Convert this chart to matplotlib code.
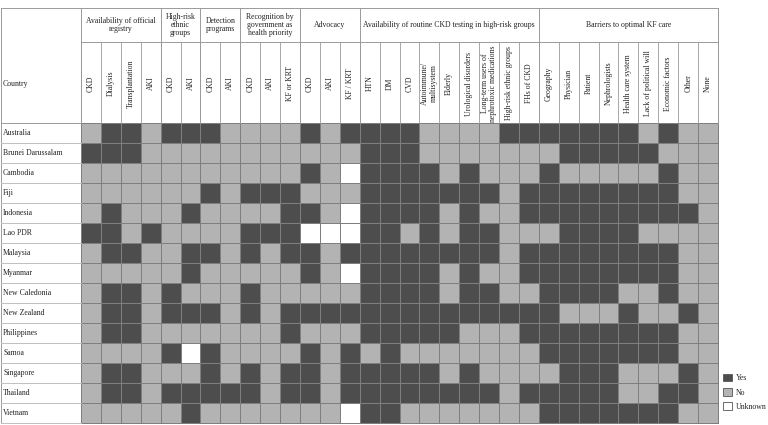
import numpy as np
import matplotlib
matplotlib.use("Agg")
import matplotlib.pyplot as plt
from matplotlib.colors import ListedColormap
from matplotlib.patches import Patch

plt.rcParams['font.family'] = ['Liberation Serif', 'DejaVu Serif']

# ---- data ----
countries = ["Australia", "Brunei Darussalam", "Cambodia", "Fiji", "Indonesia",
             "Lao PDR", "Malaysia", "Myanmar", "New Caledonia", "New Zealand",
             "Philippines", "Samoa", "Singapore", "Thailand", "Vietnam"]

groups = ["Availability of official\nregistry", "High-risk\nethnic\ngroups",
          "Detection\nprograms", "Recognition by\ngovernment as\nhealth priority",
          "Advocacy", "Availability of routine CKD testing in high-risk groups",
          "Barriers to optimal KF care"]
group_sizes = [4, 2, 2, 3, 3, 9, 9]

columns = ["CKD", "Dialysis", "Transplantation", "AKI",
           "CKD", "AKI",
           "CKD", "AKI",
           "CKD", "AKI", "KF or KRT",
           "CKD", "AKI", "KF / KRT",
           "HTN", "DM", "CVD", "Autoimmune/\nmultisystem", "Elderly",
           "Urological disorders", "Long-term users of\nnephrotoxic medications",
           "High-risk ethnic groups", "FHs of CKD",
           "Geography", "Physician", "Patient", "Nephrologists", "Health care system",
           "Lack of political will", "Economic factors", "Other", "None"]

# Y = yes, N = no, U = unknown (grouped as in the header)
status = [
    "NYYN YY YN NNN YNY YYYNNNNYY YYYYYNYNN",  # Australia
    "YYYN NN NN NNN NNN YYYNNNNNN NYYYYYNNN",  # Brunei
    "NNNN NN NN NNN YNU YYYYNYNNN YNNNNNYNN",  # Cambodia
    "NNNN NN YN YYY NNN YYYYYYYNY YYYYYYYNN",  # Fiji
    "NYNN NY NN NNY YNU YYYYNYNNY YYYYYYYYN",  # Indonesia
    "YYNY NN NN YYY UUU YYNYNYYNN NYYYYNNNN",  # Lao PDR
    "NYYN NY YN YNY YNY YYYYYYYNY YYYYYYYNN",  # Malaysia
    "NNNN NY NN NNN YNU YYYYNYNNY YYYYYYYNN",  # Myanmar
    "NYYN YN NN YNN NNN YYYYNYYNN YYYYNNYNN",  # New Caledonia
    "NYYN YY YN YNY YYY YYYYYYYYY YNNNYNNYN",  # New Zealand
    "NYYN NN NN NNY NNN YYYYYNNNY YYYYYYYNN",  # Philippines
    "NNNN YU YN NNN YNY NYNNNNNNN YYYYYYYNN",  # Samoa
    "NYYN NN YN YNY YNY YYYYNYNNN NYYYNNNYN",  # Singapore
    "NYYN YY YY YNY YNY YYYYYYYNY YYYYNNYYN",  # Thailand
    "NNNN NY NN NNN NNU YYNNNNNNN YYYYYYYNN",  # Vietnam
]

legend_labels = ["Yes", "No", "Unknown"]

# ---- build matrix ----
code = {"U": 0, "N": 1, "Y": 2}
grid = np.array([[code[c] for c in row.replace(" ", "")] for row in status])
cmap = ListedColormap(["#ffffff", "#b3b3b3", "#4d4d4d"])

W, H = 768, 425
fig = plt.figure(figsize=(W / 100, H / 100), dpi=100)
ax = fig.add_axes([0, 0, 1, 1])
ax.set_xlim(0, W)
ax.set_ylim(H, 0)
ax.axis("off")

x0, x1 = 81.0, 718.0
y_top, y_grp, y_head, y_bot = 7.5, 42.0, 123.0, 422.5
ncol, nrow = len(columns), len(countries)
xe = np.linspace(x0, x1, ncol + 1)
ye = np.linspace(y_head, y_bot, nrow + 1)

ax.pcolormesh(xe, ye, grid, cmap=cmap, vmin=-0.5, vmax=2.5,
              edgecolors="#7f7f7f", linewidth=0.6)

fs = 5.6
txt_c = "#222222"
line_c = "#9a9a9a"

# header frame
ax.plot([0.5, x1], [y_top, y_top], color=line_c, lw=0.7)
ax.plot([0.5, 0.5], [y_top, y_bot], color=line_c, lw=0.7)
ax.plot([x1, x1], [y_top, y_head], color=line_c, lw=0.7)
ax.plot([x0, x0], [y_top, y_head], color=line_c, lw=0.7)
ax.plot([x0, x1], [y_grp, y_grp], color=line_c, lw=0.7)
ax.plot([0.5, x0], [y_head, y_head], color=line_c, lw=0.7)
ax.text(3, (y_grp + y_head) / 2 + 1, "Country", fontsize=fs, va="center",
        ha="left", color=txt_c)

# group headers
bounds = np.concatenate([[0], np.cumsum(group_sizes)])
for g, name in enumerate(groups):
    a, b = xe[bounds[g]], xe[bounds[g + 1]]
    ax.plot([b, b], [y_top, y_head], color=line_c, lw=0.7)
    ax.text((a + b) / 2, (y_top + y_grp) / 2, name, fontsize=fs, ha="center",
            va="center", linespacing=1.0, color=txt_c)

# column headers (rotated)
for j, name in enumerate(columns):
    ax.plot([xe[j], xe[j]], [y_grp, y_head], color=line_c, lw=0.6)
    ax.text((xe[j] + xe[j + 1]) / 2, (y_grp + y_head) / 2 + 1, name, fontsize=fs,
            rotation=90, ha="center", va="center", linespacing=1.0,
            multialignment="center", color=txt_c)

# country names
for i, name in enumerate(countries):
    ax.text(3, (ye[i] + ye[i + 1]) / 2, name, fontsize=fs, ha="left",
            va="center", color=txt_c)
    ax.plot([0.5, x0], [ye[i + 1], ye[i + 1]], color="#c0c0c0", lw=0.7)

handles = [Patch(facecolor=c, edgecolor="#555555", linewidth=0.6)
           for c in ["#4d4d4d", "#b3b3b3", "#ffffff"]]
leg = fig.legend(handles, legend_labels, loc="upper left",
                 bbox_to_anchor=(723 / W, 1 - 374 / H), frameon=False, fontsize=fs,
                 handlelength=1.1, handleheight=1.1, labelspacing=0.75, borderpad=0,
                 handletextpad=0.5, borderaxespad=0)
for t in leg.get_texts():
    t.set_color(txt_c)

fig.savefig("out.png", dpi=100)
